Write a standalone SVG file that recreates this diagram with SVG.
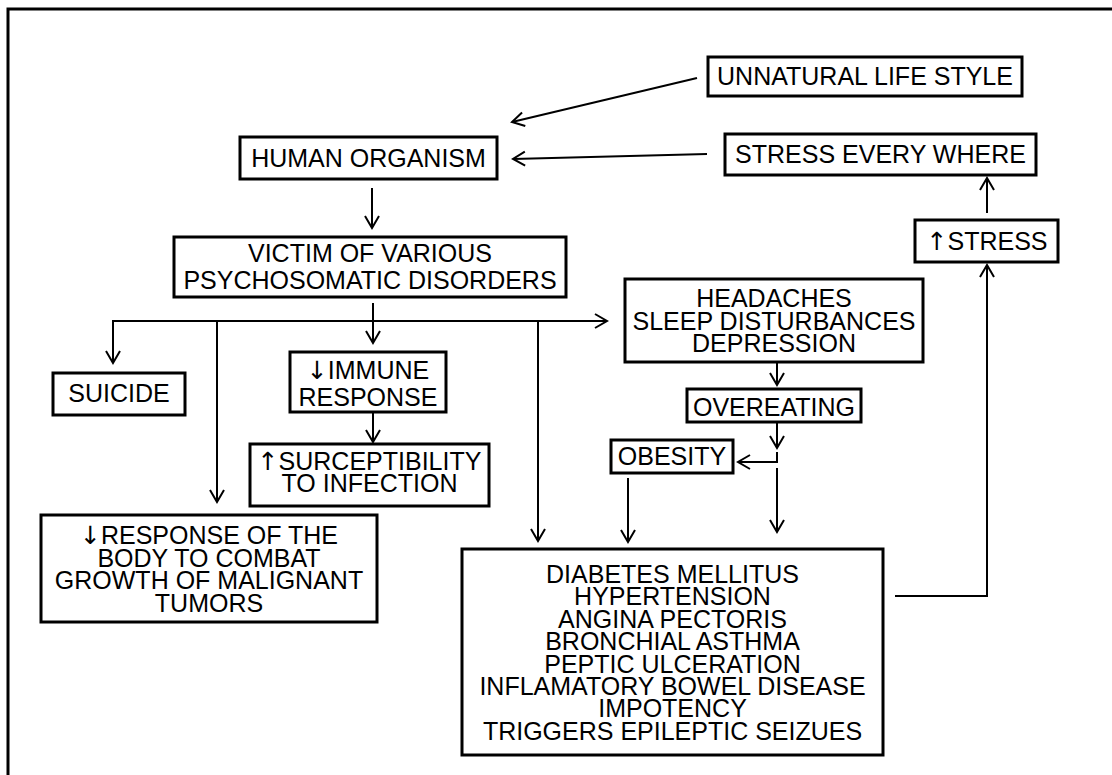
<svg xmlns="http://www.w3.org/2000/svg" width="1112" height="775" viewBox="0 0 1112 775">
<defs>
<marker id="ah" viewBox="-14 -9 16 18" markerWidth="16" markerHeight="18" refX="0" refY="0" orient="auto" markerUnits="userSpaceOnUse">
<path d="M-12,-7 L0,0 L-12,7" fill="none" stroke="#000" stroke-width="2"/>
</marker>
</defs>
<style>
.box{fill:#fff;stroke:#000;stroke-width:3}
.t{font-family:"Liberation Sans",Arial,sans-serif;font-size:25px;fill:#000;text-anchor:middle}
.g{font-family:"DejaVu Sans",sans-serif;font-size:25px}
.c{fill:none;stroke:#000;stroke-width:2}
.a{marker-end:url(#ah)}
</style>
<rect width="1112" height="775" fill="#fff"/>
<path d="M8,775 L8,9 L1112,9" fill="none" stroke="#000" stroke-width="3"/>

<g id="connectors">
<line class="c a" x1="697" y1="78" x2="512" y2="122"/>
<line class="c a" x1="707" y1="154" x2="513" y2="159"/>
<line class="c a" x1="372" y1="188" x2="372" y2="228"/>
<line class="c a" x1="373" y1="303" x2="373" y2="343"/>
<line class="c a" x1="113" y1="321" x2="607" y2="321"/>
<line class="c a" x1="113" y1="320" x2="113" y2="363"/>
<line class="c a" x1="217" y1="321" x2="217" y2="502"/>
<line class="c a" x1="538" y1="321" x2="538" y2="541"/>
<line class="c a" x1="373" y1="412" x2="373" y2="442"/>
<line class="c a" x1="777" y1="362" x2="777" y2="385"/>
<line class="c a" x1="777" y1="423" x2="777" y2="448"/>
<polyline class="c a" points="777,452 777,462 738,462"/>
<line class="c a" x1="777" y1="468" x2="777" y2="532"/>
<line class="c a" x1="628" y1="478" x2="628" y2="542"/>
<polyline class="c a" points="895,596 987,596 987,265"/>
<line class="c a" x1="987" y1="213" x2="987" y2="178"/>
</g>

<g id="unnatural">
<rect class="box" x="708" y="57" width="314" height="39"/>
<text class="t" x="865" y="85">UNNATURAL LIFE STYLE</text>
</g>
<g id="stress-everywhere">
<rect class="box" x="725" y="134" width="311" height="41"/>
<text class="t" x="880.5" y="163">STRESS EVERY WHERE</text>
</g>
<g id="human">
<rect class="box" x="240" y="137" width="257" height="42"/>
<text class="t" x="368.5" y="167">HUMAN ORGANISM</text>
</g>
<g id="victim">
<rect class="box" x="174" y="237" width="392" height="60"/>
<text class="t" x="370" y="262">VICTIM OF VARIOUS</text>
<text class="t" x="370" y="289">PSYCHOSOMATIC DISORDERS</text>
</g>
<g id="stress-up">
<rect class="box" x="915" y="220" width="143" height="42"/>
<text class="t" x="987" y="250"><tspan class="g">↑</tspan>STRESS</text>
</g>
<g id="suicide">
<rect class="box" x="53" y="373" width="132" height="42"/>
<text class="t" x="119" y="402">SUICIDE</text>
</g>
<g id="immune">
<rect class="box" x="290" y="352" width="156" height="60"/>
<text class="t" x="368" y="379"><tspan class="g">↓</tspan>IMMUNE</text>
<text class="t" x="368" y="406">RESPONSE</text>
</g>
<g id="surceptibility">
<rect class="box" x="250" y="444" width="239" height="62"/>
<text class="t" x="369.5" y="470"><tspan class="g">↑</tspan>SURCEPTIBILITY</text>
<text class="t" x="369.5" y="492">TO INFECTION</text>
</g>
<g id="response">
<rect class="box" x="41" y="515" width="336" height="107"/>
<text class="t" x="209" y="544"><tspan class="g">↓</tspan>RESPONSE OF THE</text>
<text class="t" x="209" y="567">BODY TO COMBAT</text>
<text class="t" x="209" y="589">GROWTH OF MALIGNANT</text>
<text class="t" x="209" y="612">TUMORS</text>
</g>
<g id="headaches">
<rect class="box" x="625" y="279" width="298" height="83"/>
<text class="t" x="774" y="307">HEADACHES</text>
<text class="t" x="774" y="329.5">SLEEP DISTURBANCES</text>
<text class="t" x="774" y="352">DEPRESSION</text>
</g>
<g id="overeating">
<rect class="box" x="687" y="389" width="174" height="33"/>
<text class="t" x="774" y="416">OVEREATING</text>
</g>
<g id="obesity">
<rect class="box" x="611" y="440" width="122" height="33"/>
<text class="t" x="672" y="465">OBESITY</text>
</g>
<g id="diseases">
<rect class="box" x="462" y="549" width="421" height="206"/>
<text class="t" x="672.5" y="583">DIABETES MELLITUS</text>
<text class="t" x="672.5" y="605.4">HYPERTENSION</text>
<text class="t" x="672.5" y="627.8">ANGINA PECTORIS</text>
<text class="t" x="672.5" y="650.2">BRONCHIAL ASTHMA</text>
<text class="t" x="672.5" y="672.6">PEPTIC ULCERATION</text>
<text class="t" x="672.5" y="695">INFLAMATORY BOWEL DISEASE</text>
<text class="t" x="672.5" y="717.4">IMPOTENCY</text>
<text class="t" x="672.5" y="739.8">TRIGGERS EPILEPTIC SEIZUES</text>
</g>
</svg>
